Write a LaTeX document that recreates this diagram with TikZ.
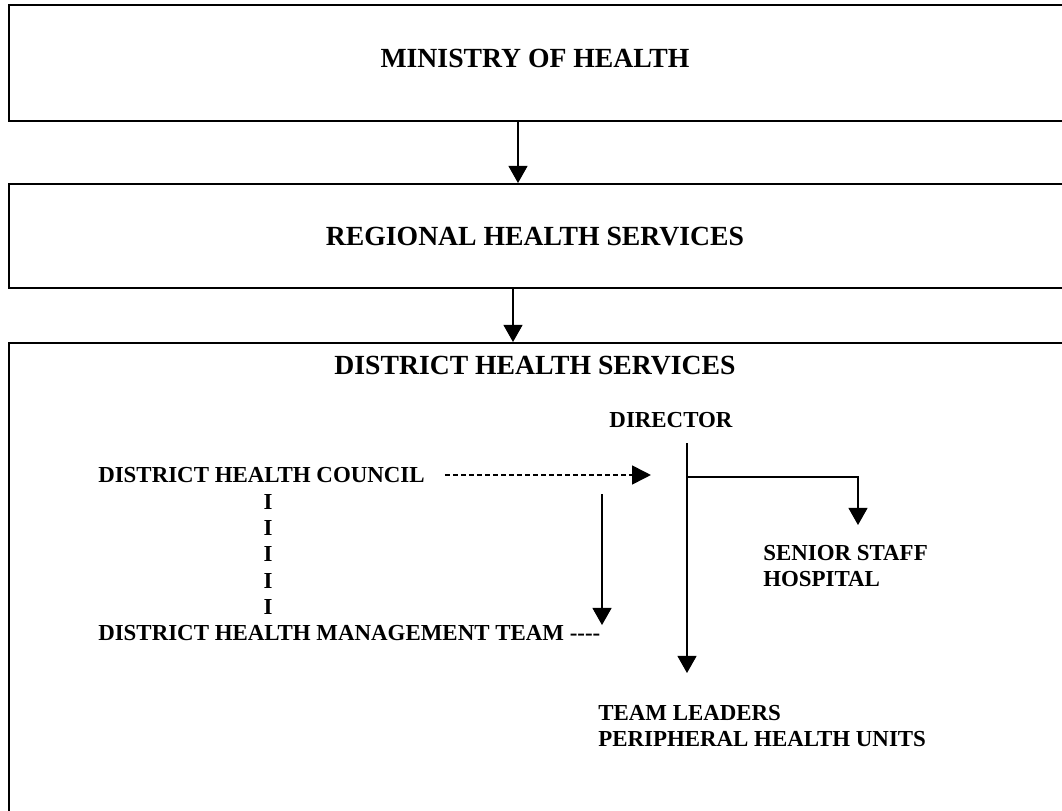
\documentclass[tikz,border=0pt]{standalone}
\usepackage{fontspec}
\setmainfont{Liberation Serif}
\usetikzlibrary{arrows.meta,positioning,calc}
\tikzset{
  lvlbox/.style={draw=black,line width=1.3pt,anchor=north west,inner sep=0pt},
  ttl/.style={font=\fontsize{19.7}{23}\selectfont\bfseries,inner sep=0pt},
  lbl/.style={font=\fontsize{16.3}{18.8}\selectfont\bfseries,inner sep=0pt,align=left},
  arr/.style={-{Triangle[length=0.43cm,width=0.48cm]},line width=0.8pt,draw=black},
  darr/.style={-{Triangle[length=0.475cm,width=0.47cm,sep=0.125cm]},line width=1.6pt,dash pattern=on 0.13cm off 0.07cm},
}
\begin{document}
\begin{tikzpicture}
  \clip (0,0) rectangle (26.55,20.25);
  % levels
  \node[lvlbox,minimum width=27cm,minimum height=2.9cm] (mohbox) at (0.2,20.15) {};
  \node[lvlbox,minimum width=27cm,minimum height=2.6cm] (rhsbox) at (0.2,15.675) {};
  \node[lvlbox,minimum width=27cm,minimum height=13cm] (dhsbox) at (0.2,11.7) {};
  \node[ttl] (moh) at (13.375,18.8) {MINISTRY OF HEALTH};
  \node[ttl] (rhs) at (13.375,14.325) {REGIONAL HEALTH SERVICES};
  \node[ttl] (dhs) at (13.375,11.1) {DISTRICT HEALTH SERVICES};
  \coordinate (a1) at (12.95,0);
  \coordinate (a2) at (12.825,0);
  \draw[arr] (a1 |- mohbox.south) -- (a1 |- rhsbox.north);
  \draw[arr] (a2 |- rhsbox.south) -- (a2 |- dhsbox.north);
  % district
  \node[lbl] (dir) at (16.775,9.75) {DIRECTOR};
  \node[lbl,anchor=west] (dhc) at (2.45,8.375) {DISTRICT HEALTH COUNCIL};
  \foreach \k/\y in {1/7.7,2/7.04,3/6.39,4/5.73,5/5.075}
    \node[lbl] (i\k) at (6.7,\y) {I};
  \node[lbl,anchor=west] (dhmt) at (2.45,4.425) {DISTRICT HEALTH MANAGEMENT TEAM -{}-{}-{}-};
  \node[lbl,anchor=north west] (ss) at (19.075,6.625) {SENIOR STAFF\\HOSPITAL};
  \node[lbl,anchor=north west] (tl) at (14.95,2.625) {TEAM LEADERS\\PERIPHERAL HEALTH UNITS};
  \coordinate (dtip) at (16.4,8.375);
  \draw[darr] ([xshift=0.5cm]dhc.east) -- (dtip);
  \coordinate (mtop) at (15.05,7.9);
  \draw[arr] (mtop) -- (mtop |- dhmt.north);
  % director lines
  \coordinate (dl) at (17.175,9.175);
  \coordinate (br) at (17.175,8.325);
  \coordinate (sst) at (21.45,7.125);
  \draw[arr,shorten >=0.8cm] (dl) -- (dl |- tl.north);
  \draw[arr] (br) -| (sst);
\end{tikzpicture}
\end{document}
